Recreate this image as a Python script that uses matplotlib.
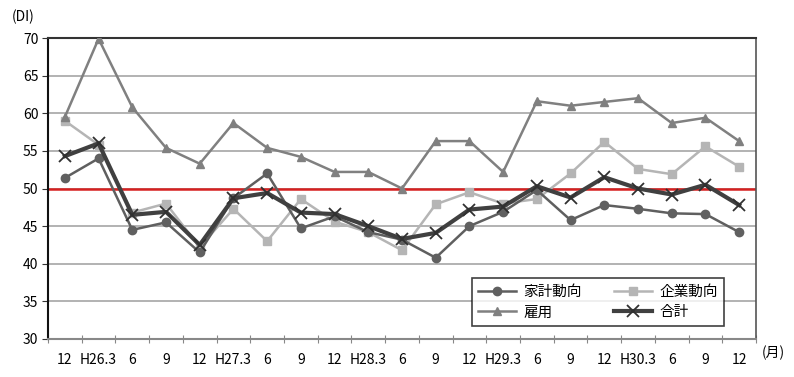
import matplotlib
matplotlib.use("Agg")
import matplotlib.pyplot as plt
import numpy as np

plt.rcParams['font.family'] = ['Noto Sans CJK JP', 'DejaVu Sans']

labels = ["12", "H26.3", "6", "9", "12", "H27.3", "6", "9", "12", "H28.3", "6",
          "9", "12", "H29.3", "6", "9", "12", "H30.3", "6", "9", "12"]

household = [51.4, 54.0, 44.5, 45.5, 41.5, 48.7, 52.0, 44.7, 46.3, 44.2, 43.2,
             40.8, 45.0, 46.9, 49.8, 45.8, 47.8, 47.3, 46.7, 46.6, 44.2]
corporate = [59.0, 55.8, 46.8, 48.0, 42.2, 47.3, 43.0, 48.6, 45.6, 44.2, 41.8,
             47.9, 49.5, 48.0, 48.6, 52.0, 56.2, 52.6, 51.9, 55.6, 52.9]
employment = [59.5, 69.9, 60.8, 55.4, 53.3, 58.7, 55.4, 54.2, 52.2, 52.2, 50.0,
              56.3, 56.3, 52.2, 61.6, 61.0, 61.5, 62.0, 58.7, 59.4, 56.3]
total = [54.3, 56.0, 46.5, 46.9, 42.5, 48.7, 49.4, 46.8, 46.6, 45.0, 43.3,
         44.1, 47.2, 47.6, 50.3, 48.8, 51.5, 50.0, 49.2, 50.5, 47.8]

series_names = ["家計動向", "企業動向", "雇用", "合計"]

fig = plt.figure(figsize=(7.94, 3.77), dpi=100)
ax = fig.add_axes([48/794, 1-339/377, 708/794, 301/377])

x = np.arange(len(labels))

for yv in range(35, 71, 5):
    ax.axhline(yv, color='#a6a6a6', lw=1.2, zorder=1)
ax.axhline(50, color='#d62020', lw=1.8, zorder=2)

l1, = ax.plot(x, household, color='#5f5f5f', lw=1.8, marker='o', ms=6,
              markerfacecolor='#606060', markeredgecolor='#606060', zorder=4, label=series_names[0])
l2, = ax.plot(x, corporate, color='#b5b5b5', lw=1.8, marker='s', ms=6,
              markerfacecolor='#b5b5b5', markeredgecolor='#b5b5b5', zorder=3, label=series_names[1])
l3, = ax.plot(x, employment, color='#808080', lw=1.8, marker='^', ms=6,
              markerfacecolor='#808080', markeredgecolor='#808080', zorder=3, label=series_names[2])
l4, = ax.plot(x, total, color='#404040', lw=3.0, marker='x', ms=9, mew=1.3,
              markeredgecolor='#303030', zorder=5, label=series_names[3])

ax.set_xlim(-0.5, len(labels) - 0.5)
ax.set_ylim(30, 70)
ax.set_yticks(range(30, 71, 5))
ax.tick_params(axis='y', labelsize=10, length=4, direction='out', color='#333333', pad=3)

ax.set_xticks(np.arange(-0.5, len(labels), 1.0))
ax.set_xticklabels([])
ax.set_xticks(x, minor=True)
ax.set_xticklabels(labels, minor=True)
ax.tick_params(axis='x', which='major', length=6, direction='inout', color='#888888')
ax.tick_params(axis='x', which='minor', length=0, labelsize=10, pad=10)

ax.spines['left'].set_color('#111111')
ax.spines['left'].set_linewidth(1.5)
ax.spines['bottom'].set_color('#888888')
ax.spines['bottom'].set_linewidth(1.5)
ax.spines['top'].set_color('#333333')
ax.spines['top'].set_linewidth(1.5)
ax.spines['right'].set_color('#555555')
ax.spines['right'].set_linewidth(1.2)

leg = ax.legend(handles=[l1, l3, l2, l4], ncol=2, loc='lower right',
                bbox_to_anchor=(0.955, 0.043), borderaxespad=0.0,
                frameon=True, fancybox=False,
                edgecolor='#111111', fontsize=10.5, handlelength=2.6,
                columnspacing=2.2, borderpad=0.45, labelspacing=0.45,
                handletextpad=0.5)
leg.get_frame().set_linewidth(1.2)

fig.text(12/794, 1-17/377, "(DI)", fontsize=10, va='center', ha='left')
fig.text(762/794, 1-353/377, "(月)", fontsize=10, va='center', ha='left')

fig.savefig("out.png", dpi=100)
